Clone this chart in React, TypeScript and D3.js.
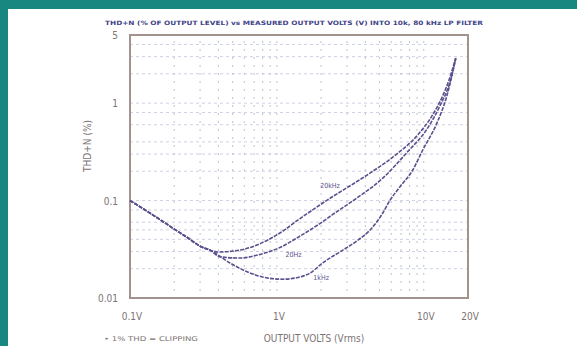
import React, { useEffect, useRef } from 'react';
import * as d3 from 'd3';

// output volts (Vrms) vs THD+N (%)
const common: [number, number][] = [
  [0.1, 0.1], [0.15, 0.068], [0.2, 0.051], [0.25, 0.041], [0.3, 0.034], [0.35, 0.031],
];
const thd20k: [number, number][] = [
  [0.4, 0.0297], [0.56, 0.031], [0.766, 0.036], [1.05, 0.0465], [1.43, 0.065], [1.96, 0.09],
  [2.4, 0.11], [3.3, 0.148], [4.5, 0.2], [6.55, 0.3], [8.96, 0.46], [11.5, 0.76],
  [13.5, 1.2], [15, 1.8], [16.5, 2.9],
];
const thd20: [number, number][] = [
  [0.41, 0.0265], [0.56, 0.0257], [0.766, 0.028], [1.05, 0.033], [1.43, 0.043], [1.96, 0.058],
  [2.4, 0.072], [3.5, 0.106], [5.26, 0.17], [7.66, 0.31], [10.5, 0.54], [12.8, 0.92],
  [15, 1.61], [16.5, 2.85],
];
const thd1k: [number, number][] = [
  [0.479, 0.0229], [0.655, 0.0181], [0.87, 0.016], [1.1, 0.0156], [1.43, 0.0164], [1.68, 0.018],
  [2.05, 0.0229], [2.68, 0.0297], [3.5, 0.0385], [4.5, 0.0536], [5.26, 0.0746], [5.87, 0.1],
  [6.87, 0.138], [8.41, 0.206], [9.85, 0.331], [12.3, 0.627], [14.3, 1.16], [15.7, 2.04], [16.5, 2.9],
];
const curveLabels = [
  { text: '20kHz', v: 2.3, t: 0.135 },
  { text: '20Hz', v: 1.3, t: 0.0265 },
  { text: '1kHz', v: 2.0, t: 0.0152 },
];
const xTicks = [0.1, 1, 10, 20];
const xTickLabels = ['0.1V', '1V', '10V', '20V'];
const yTicks = [0.01, 0.1, 1, 5];
const yTickLabels = ['0.01', '0.1', '1', '5'];
const gridX = [0.2, 0.3, 0.4, 0.5, 0.6, 0.7, 0.8, 0.9, 1, 2, 3, 4, 5, 6, 7, 8, 9, 10];
const gridY = [0.02, 0.03, 0.04, 0.05, 0.06, 0.08, 0.1, 0.2, 0.3, 0.4, 0.6, 0.8, 1, 2, 3, 4];

const App = () => {
  const ref = useRef<SVGSVGElement>(null);

  useEffect(() => {
    const svg = d3.select(ref.current);
    svg.selectAll('*').remove();

    const W = 577, H = 346;
    const left = 130, right = 468, top = 35, bottom = 298;
    const font = '"Liberation Sans Narrow", "DejaVu Sans Condensed", sans-serif';

    svg.append('rect').attr('width', W).attr('height', H).attr('fill', '#17877f');
    svg.append('rect').attr('x', 8).attr('y', 9).attr('width', W - 8).attr('height', H - 9).attr('fill', '#fff');

    const x = d3.scaleLog().domain([0.1, 20]).range([left, right]);
    const y = d3.scaleLog().domain([0.01, 5]).range([bottom, top]);

    // grid
    svg.append('g').selectAll('line').data(gridY).enter().append('line')
      .attr('x1', left).attr('x2', right)
      .attr('y1', d => y(d)).attr('y2', d => y(d))
      .attr('stroke', '#ccd2e2').attr('stroke-width', 1).attr('stroke-dasharray', '3,3');
    svg.append('g').selectAll('line').data(gridX).enter().append('line')
      .attr('x1', d => x(d)).attr('x2', d => x(d))
      .attr('y1', top + 6).attr('y2', bottom)
      .attr('stroke', '#bcc2d2').attr('stroke-width', 1).attr('stroke-dasharray', '2,6');

    // frame
    svg.append('rect').attr('x', left).attr('y', top)
      .attr('width', right - left).attr('height', bottom - top)
      .attr('fill', 'none').attr('stroke', '#a3938f').attr('stroke-width', 2);

    // curves
    const line = d3.line<[number, number]>()
      .x(d => x(d[0])).y(d => y(d[1]))
      .curve(d3.curveMonotoneX);
    [thd20k, thd20, thd1k].forEach(s => {
      svg.append('path')
        .attr('d', line([...common, ...s]))
        .attr('fill', 'none')
        .attr('stroke', '#5b4f8e')
        .attr('stroke-width', 1.6)
        .attr('stroke-dasharray', '4,1.2');
    });

    svg.selectAll('.clabel').data(curveLabels).enter().append('text')
      .attr('class', 'clabel')
      .attr('x', d => x(d.v)).attr('y', d => y(d.t))
      .attr('text-anchor', 'middle')
      .attr('font-family', font).attr('font-size', 7)
      .attr('fill', '#5b4f8e')
      .text(d => d.text);

    // axis labels
    svg.selectAll('.xt').data(xTicks).enter().append('text')
      .attr('class', 'xt')
      .attr('x', d => x(d) + 2).attr('y', 320)
      .attr('text-anchor', 'middle')
      .attr('font-family', font).attr('font-size', 10)
      .attr('fill', '#7d7374')
      .text((d, i) => xTickLabels[i]);
    svg.selectAll('.yt').data(yTicks).enter().append('text')
      .attr('class', 'yt')
      .attr('x', 118).attr('y', d => y(d) + 4)
      .attr('text-anchor', 'end')
      .attr('font-family', font).attr('font-size', 10)
      .attr('fill', '#7d7374')
      .text((d, i) => yTickLabels[i]);

    svg.append('text')
      .attr('transform', 'translate(91,146) rotate(-90)')
      .attr('text-anchor', 'middle')
      .attr('font-family', font).attr('font-size', 10)
      .attr('fill', '#7d7374')
      .text('THD+N (%)');

    svg.append('text')
      .attr('x', 314).attr('y', 342)
      .attr('text-anchor', 'middle')
      .attr('font-family', font).attr('font-size', 10)
      .attr('fill', '#7d7374')
      .text('OUTPUT VOLTS (Vrms)');

    svg.append('text')
      .attr('x', 104).attr('y', 341)
      .attr('font-family', font).attr('font-size', 6.5)
      .attr('fill', '#7d7374')
      .attr('textLength', 94).attr('lengthAdjust', 'spacingAndGlyphs')
      .text('• 1% THD = CLIPPING');

    svg.append('text')
      .attr('x', 105).attr('y', 25)
      .attr('font-family', font).attr('font-size', 6)
      .attr('font-weight', 'bold')
      .attr('fill', '#3f4488')
      .attr('textLength', 378).attr('lengthAdjust', 'spacingAndGlyphs')
      .text('THD+N (% OF OUTPUT LEVEL) vs MEASURED OUTPUT VOLTS (V) INTO 10k, 80 kHz LP FILTER');
  }, []);

  return (
    <svg ref={ref} width={577} height={346}
      style={{ position: 'absolute', left: 0, top: 0, display: 'block' }} />
  );
};

export default App;
